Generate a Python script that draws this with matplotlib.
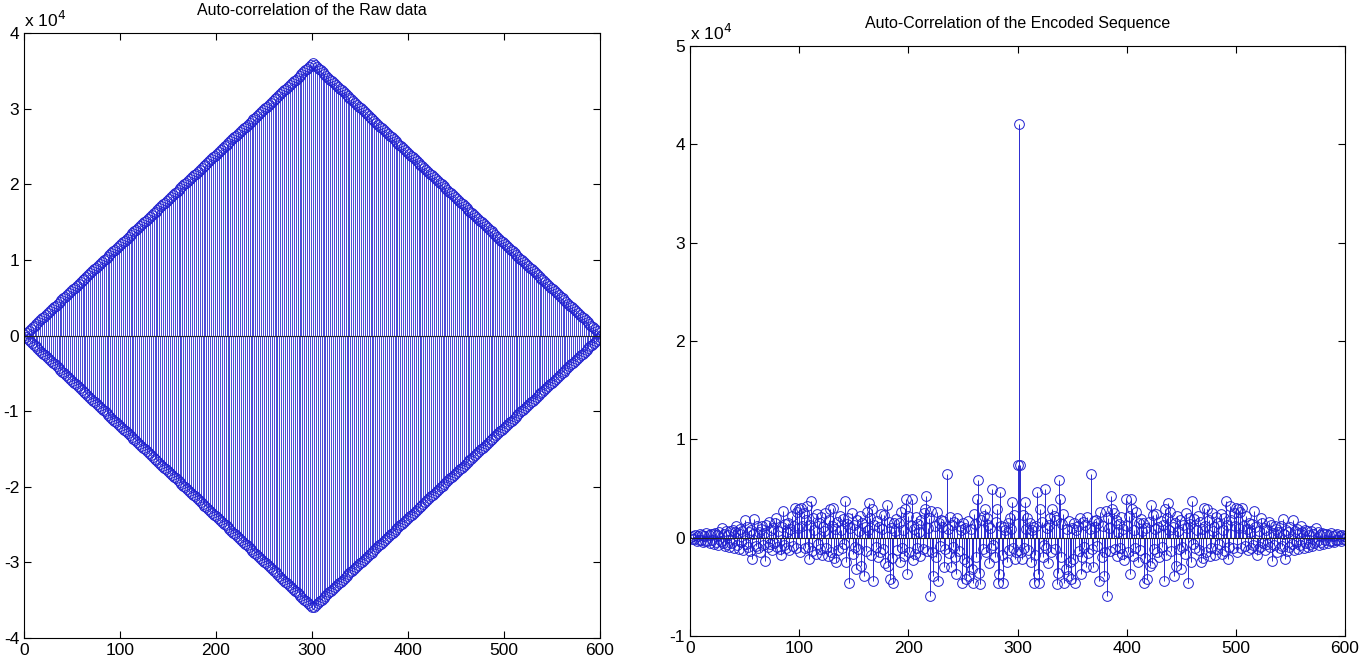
import numpy as np
import matplotlib.pyplot as plt

plt.rcParams['font.family'] = ['Liberation Sans Narrow', 'Liberation Sans', 'DejaVu Sans']

# raw data: alternating sequence, 301 samples, autocorrelation peak ~36000
n_raw = 301
raw_peak = 36000

# encoded sequence autocorrelation, lags 1..300,
# centre value at 301, the rest mirrors (autocorrelation is symmetric)
enc_half = [
    100, -150, 200, -100, 250, -300, 150, -200, 350, -250,
    300, -400, 200, -350, 450, -300, 250, -500, 400, -200,
    350, -600, 500, -450, 300, -700, 600, -350, 1000, -500,
    400, -800, 650, -600, 300, -900, 700, -500, 800, -1000,
    600, 1200, -700, 500, -1200, 900, -400, 700, -1300, 1800,
    -600, 1100, -900, 600, -1400, 800, -2200, 400, 1900, -800,
    1200, -1000, 600, -1500, 900, 1200, -700, 500, -2400, 1300,
    -900, 1600, -600, 800, -1300, 1000, -500, 1500, 2000, -900,
    700, -1200, -1800, 1100, 2700, -700, 1400, -1000, 600, 1500,
    -1300, 900, 2200, -800, 1200, 3000, -1100, 2600, 1000, 2900,
    -1500, 3000, 1200, 2500, -1000, 1800, 3200, -900, -2200, 1300,
    3700, -1400, 2000, 800, -1700, 2400, -600, 1500, -1200, 2100,
    -1800, 1100, 700, 2500, -1000, -1900, 1800, 2900, -1500, 1200,
    3000, -2100, 900, -2500, 1600, -1300, 2200, 800, -1100, 1900,
    -600, 3700, -2500, 1400, 2000, -4600, 1000, 2500, -1700, 1300,
    -900, -3200, 1800, -1200, 700, 2200, -2900, 1500, -3900, 1100,
    -1400, 2600, 800, 3500, 2000, -1800, 2900, -4400, 1300, -900,
    1700, -2000, 1100, -1500, 2400, 900, -1200, 2300, -2600, 3300,
    -2900, 1600, -4200, 1000, -2100, -4600, 1500, 700, 1900, -1300,
    1500, -2500, 2600, -1100, 800, -1900, 2900, 3900, -3700, 2200,
    -1500, 1200, 3900, -2300, 900, -1700, 2100, -1000, 1400, 600,
    -1900, 1800, -1200, 2500, 2900, 4200, -1400, 1000, 2000, -5900,
    2700, -1500, -3900, 1200, -2000, 2600, -4400, 1500, -800, 1800,
    1100, 1700, -3000, -1200, 6500, 900, -1600, 2100, -3000, 1300,
    -900, 1600, -2000, -3700, 2000, -1400, 1200, 800, -4600, 1500,
    -2200, 1000, -4200, -2500, 1700, -3900, 900, -3200, -4600, 2400,
    1400, -2000, 3900, 5900, -3600, -4700, 1800, -1200, 2200, 2900,
    -1500, 2000, 1300, -2600, 1000, -1100, 5000, -700, -2000, 1600,
    2900, -4600, -3700, 4600, 1200, -1800, -4600, 1100, 800, -2500,
    1500, -1300, 2000, 900, 3600, -1000, 2300, -2200, -1500, 7400,
]
enc_peak = 42100


def stem_plot(ax, x, y, lw):
    markerline, stemlines, baseline = ax.stem(x, y, linefmt='-', markerfmt='o', basefmt='-')
    plt.setp(stemlines, color='#2a2ad0', linewidth=lw)
    plt.setp(markerline, markeredgecolor='#2020d0', markerfacecolor='none',
             markersize=7, markeredgewidth=0.7)
    plt.setp(baseline, color='#222222', linewidth=0.8)


def matlab_axes(ax, ymin, ymax, title):
    ax.set_xlim(0, 600)
    ax.set_ylim(ymin * 1e4, ymax * 1e4)
    ax.set_xticks(np.arange(0, 601, 100))
    yt = np.arange(ymin, ymax + 1)
    ax.set_yticks(yt * 1e4)
    ax.set_yticklabels([str(v) for v in yt])
    ax.tick_params(direction='in', top=True, right=True, labelsize=12.5, length=5)
    for s in ax.spines.values():
        s.set_linewidth(0.8)
    ax.set_title(title, fontsize=11.5, pad=13)
    ax.text(0.0, 1.005, 'x 10$^4$', transform=ax.transAxes, fontsize=12.5, va='bottom', ha='left')


raw = np.sqrt(raw_peak / n_raw) * (-1.0) ** np.arange(n_raw)
raw_ac = np.correlate(raw, raw, mode='full')

enc_ac = np.array(enc_half + [enc_peak] + enc_half[::-1])

fig = plt.figure(figsize=(13.64, 6.63), dpi=100)
ax1 = fig.add_axes([24 / 1364, 25 / 663, 576 / 1364, 605 / 663])
ax2 = fig.add_axes([690 / 1364, 27 / 663, 655 / 1364, 590 / 663])

stem_plot(ax1, np.arange(1, len(raw_ac) + 1), raw_ac, 0.6)
matlab_axes(ax1, -4, 4, 'Auto-correlation of the Raw data')

stem_plot(ax2, np.arange(1, len(enc_ac) + 1), enc_ac, 0.7)
matlab_axes(ax2, -1, 5, 'Auto-Correlation of the Encoded Sequence')

fig.savefig('out.png', dpi=100)
